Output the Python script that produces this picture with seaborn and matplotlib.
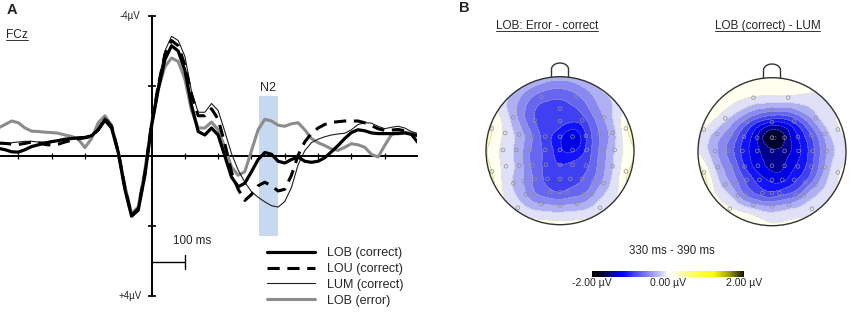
import numpy as np
import matplotlib
matplotlib.use('Agg')
import matplotlib.pyplot as plt
import matplotlib.tri as mtri
import matplotlib.cm as cm
from matplotlib.colors import LinearSegmentedColormap, Normalize
from matplotlib.lines import Line2D
from matplotlib.patches import Circle
import seaborn as sns

# ---------------- data: ERP at FCz (µV, negative up) ----------------
times = np.arange(-460, 801, 20)

lob_correct = [-0.22, -0.18, -0.12, -0.11, -0.18, -0.27, -0.32, -0.37, -0.41, -0.44,
               -0.48, -0.50, -0.52, -0.53, -0.58, -0.75, -1.02, -0.80, -0.10, 0.95,
               1.72, 1.55, 0.55, -0.85, -1.90, -2.75, -3.15, -3.00, -2.45, -1.45,
               -0.70, -0.60, -0.80, -0.60, 0.00, 0.60, 0.88, 0.78, 0.45, 0.10,
               -0.10, -0.05, 0.15, 0.20, 0.10, 0.03, 0.15, 0.18, 0.15, 0.05,
               -0.12, -0.30, -0.50, -0.67, -0.75, -0.72, -0.66, -0.64, -0.64, -0.64,
               -0.64, -0.66, -0.62, -0.58]
lou_correct = [-0.37, -0.36, -0.34, -0.33, -0.36, -0.40, -0.38, -0.33, -0.31, -0.34,
               -0.40, -0.45, -0.49, -0.52, -0.56, -0.75, -1.08, -0.85, -0.12, 0.90,
               1.70, 1.50, 0.50, -0.90, -2.00, -2.90, -3.30, -3.15, -2.60, -1.75,
               -1.15, -1.15, -1.35, -1.05, -0.35, 0.46, 0.95, 1.27, 1.10, 0.85,
               0.75, 0.85, 1.00, 0.95, 0.55, -0.02, -0.40, -0.65, -0.80, -0.90,
               -0.96, -0.98, -1.00, -1.00, -1.00, -0.95, -0.87, -0.78, -0.73, -0.74,
               -0.76, -0.72, -0.62, -0.38]
lum_correct = [-0.35, -0.35, -0.38, -0.40, -0.42, -0.42, -0.40, -0.40, -0.42, -0.45,
               -0.48, -0.50, -0.52, -0.54, -0.60, -0.80, -1.10, -0.88, -0.15, 0.88,
               1.70, 1.50, 0.50, -0.95, -2.10, -3.00, -3.42, -3.30, -2.85, -1.85,
               -1.25, -1.25, -1.50, -1.30, -0.70, -0.07, 0.40, 0.75, 1.02, 1.18,
               1.31, 1.42, 1.46, 1.30, 0.90, 0.25, -0.15, -0.38, -0.48, -0.55,
               -0.60, -0.63, -0.65, -0.75, -0.90, -0.95, -0.94, -0.85, -0.78, -0.82,
               -0.85, -0.80, -0.70, -0.64]
lob_error = [-0.80, -0.90, -1.00, -0.95, -0.80, -0.71, -0.70, -0.68, -0.67, -0.65,
             -0.60, -0.56, -0.48, -0.24, -0.50, -0.95, -1.15, -0.88, -0.12, 0.85,
             1.65, 1.46, 0.40, -0.95, -1.90, -2.55, -2.80, -2.70, -2.20, -1.30,
             -0.80, -0.80, -0.97, -0.75, -0.25, 0.31, 0.55, 0.45, -0.15, -0.75,
             -1.05, -1.00, -0.88, -0.85, -0.92, -0.95, -0.75, -0.50, -0.38, -0.30,
             -0.20, -0.16, -0.25, -0.35, -0.32, -0.25, -0.05, 0.03, -0.30, -0.60,
             -0.70, -0.68, -0.65, -0.60]

series_labels = ['LOB (correct)', 'LOU (correct)', 'LUM (correct)', 'LOB (error)']
n2_window = [322, 381]

# ---------------- data: topographies 330-390 ms ----------------
elec_x = [-0.25, 0.22,
          0.0,
          -0.63, -0.34, 0.0, 0.30, 0.59,
          -0.92, -0.74, -0.55, -0.38, -0.20, 0.0, 0.17, 0.35, 0.53, 0.71, 0.89,
          -0.77, -0.59, -0.40, -0.20, 0.0, 0.17, 0.36, 0.55, 0.74,
          -0.92, -0.73, -0.55, -0.37, -0.19, 0.0, 0.17, 0.35, 0.53, 0.71, 0.89,
          -0.63, -0.49, -0.34, -0.17, 0.0, 0.14, 0.30, 0.45, 0.59,
          -0.46, -0.36, -0.13, 0.0, 0.10, 0.32, 0.43,
          -0.57, -0.25, 0.0, 0.23, 0.54]
elec_y = [0.73, 0.73,
          0.57,
          0.45, 0.41, 0.40, 0.41, 0.45,
          0.30, 0.24, 0.22, 0.20, 0.19, 0.19, 0.19, 0.20, 0.22, 0.24, 0.30,
          0.01, 0.01, 0.01, 0.01, 0.01, 0.01, 0.01, 0.01, 0.01,
          -0.28, -0.21, -0.20, -0.20, -0.19, -0.19, -0.19, -0.20, -0.20, -0.21, -0.28,
          -0.44, -0.41, -0.38, -0.38, -0.38, -0.38, -0.38, -0.41, -0.44,
          -0.59, -0.59, -0.56, -0.56, -0.56, -0.59, -0.59,
          -0.77, -0.72, -0.74, -0.72, -0.77]

err_minus_correct = [-0.70, -0.65,
                     -0.85,
                     -0.30, -0.80, -0.90, -0.90, -0.40,
                     0.20, -0.05, -0.30, -0.60, -0.90, -1.15, -1.35, -1.00, -0.60, -0.30, 0.15,
                     -0.05, -0.25, -0.60, -0.85, -1.15, -1.25, -0.95, -0.55, -0.20,
                     0.20, -0.08, -0.30, -0.65, -0.85, -1.00, -0.95, -0.85, -0.55, -0.22, 0.15,
                     -0.22, -0.40, -0.65, -0.85, -0.90, -0.90, -0.80, -0.60, -0.35,
                     -0.40, -0.55, -0.75, -0.80, -0.75, -0.60, -0.45,
                     -0.08, -0.40, -0.40, -0.40, -0.08]
correct_minus_lum = [-0.02, -0.05,
                     -0.50,
                     -0.15, -0.70, -1.20, -0.95, -0.30,
                     0.00, -0.30, -0.60, -1.00, -1.40, -1.80, -1.60, -1.20, -0.80, -0.35, -0.02,
                     -0.35, -0.65, -1.05, -1.35, -1.55, -1.50, -1.25, -0.85, -0.40,
                     0.20, -0.30, -0.60, -1.00, -1.30, -1.45, -1.40, -1.15, -0.85, -0.40, -0.02,
                     -0.30, -0.55, -0.85, -1.10, -1.25, -1.25, -1.05, -0.80, -0.45,
                     -0.40, -0.60, -0.90, -0.95, -0.90, -0.65, -0.45,
                     0.05, -0.35, -0.40, -0.35, -0.08]
rim_angles = [0, 30, 60, 90, 120, 150, 180, 210, 240, 270, 300, 330]
rim_err = [0.25, 0.10, -0.10, -0.15, -0.10, 0.10, 0.30, 0.30, 0.10, 0.20, 0.10, 0.25]
rim_lum = [0.00, 0.00, 0.05, 0.05, 0.25, 0.25, 0.10, 0.35, 0.30, 0.05, 0.00, 0.00]

topo_titles = ['LOB: Error - correct', 'LOB (correct) - LUM']

# ---------------- style ----------------
sns.set_style('white')
plt.rcParams['font.family'] = ['Liberation Sans', 'DejaVu Sans']

W, H = 853, 323
fig = plt.figure(figsize=(W / 100, H / 100), dpi=100)


def fx(px):
    return px / W


def fy(py):
    return 1 - py / H


# ---------------- panel A ----------------
ax = fig.add_axes([0, fy(296), fx(417), 280 / H])
ax.fill_between(n2_window, -1.71, 2.29, color='#c6d9f0', lw=0, zorder=0)

line_kw = dict(ax=ax, legend=False, solid_joinstyle='round', dash_joinstyle='round')
sns.lineplot(x=times, y=lob_error, color='#8c8c8c', linewidth=2.2, zorder=3, **line_kw)
sns.lineplot(x=times, y=lum_correct, color='#1e1e1e', linewidth=0.8, zorder=4, **line_kw)
sns.lineplot(x=times, y=lou_correct, color='black', linewidth=2.2, zorder=5, **line_kw)
ax.lines[-1].set_dashes((4, 2.5))
sns.lineplot(x=times, y=lob_correct, color='black', linewidth=2.3, zorder=6, **line_kw)

ax.set_xlim(-455, 797)
ax.set_ylim(4, -4)
for s in ['top', 'right']:
    ax.spines[s].set_visible(False)
for s in ['left', 'bottom']:
    ax.spines[s].set_position(('data', 0))
    ax.spines[s].set_linewidth(1.4)
    ax.spines[s].set_color('black')
ax.set_xticks([t for t in range(-400, 800, 100) if t != 0])
ax.set_xticklabels([])
ax.set_yticks([-4, -2, 2, 4])
ax.set_yticklabels([])
ax.tick_params(axis='x', bottom=True, direction='inout', length=5, width=0.9, color='black')
ax.tick_params(axis='y', left=True, direction='inout', length=6, width=1.2, color='black')
ax.set_xlabel('')
ax.set_ylabel('')
ax.patch.set_alpha(0)

ax.text(-35, -4, '-4µV', ha='right', va='center', fontsize=7)
ax.text(-30, 4, '+4µV', ha='right', va='center', fontsize=7)
ax.text(351, -1.95, 'N2', ha='center', va='center', fontsize=9)

# 100 ms scale bar
ax.plot([0, 100], [3.04, 3.04], color='black', lw=1.0, solid_capstyle='butt')
ax.plot([100, 100], [2.84, 3.24], color='black', lw=1.0)
ax.text(121, 2.44, '100 ms', ha='center', va='center', fontsize=8.4)

handles = [Line2D([], [], color='black', lw=2.3),
           Line2D([], [], color='black', lw=2.2, dashes=(4, 2.5)),
           Line2D([], [], color='#1e1e1e', lw=0.8),
           Line2D([], [], color='#8c8c8c', lw=2.2)]
fig.legend(handles, series_labels, loc='upper left', bbox_to_anchor=(fx(267), fy(247)),
           frameon=False, fontsize=9, handlelength=3.85, handletextpad=0.95,
           labelspacing=0.31, borderpad=0, borderaxespad=0)

fig.text(fx(11.5), fy(9.5), 'A', fontsize=10.5, fontweight='bold', ha='center', va='center')
fcz = fig.text(fx(6), fy(35), 'FCz', fontsize=8.6, ha='left', va='center')

# ---------------- panel B ----------------
topo_cmap = LinearSegmentedColormap.from_list('topo', [
    (0.000, '#000000'), (0.075, '#000030'), (0.125, '#000090'), (0.175, '#0000e8'),
    (0.2125, '#0808ff'), (0.275, '#4040f2'), (0.350, '#7878f0'), (0.425, '#b0b0f4'),
    (0.475, '#e0e0f8'), (0.500, '#ffffff'), (0.525, '#fffff0'), (0.575, '#fdfbc0'),
    (0.700, '#ffff40'), (0.800, '#ffff00'), (0.900, '#a0a000'), (1.000, '#101000')])
norm = Normalize(-2, 2)
levels = np.arange(-2.0, 2.01, 0.2)
R = 74.0


def draw_head(cx, cy, vals, rim_vals):
    hax = fig.add_axes([fx(cx - 1.1 * R), fy(cy + 1.1 * R), 2.2 * R / W, 2.35 * R / H])
    hax.set_xlim(-1.1, 1.1)
    hax.set_ylim(-1.1, 1.25)
    hax.axis('off')
    ang = np.deg2rad(rim_angles)
    px = np.concatenate([elec_x, 1.08 * np.cos(ang)])
    py = np.concatenate([elec_y, 1.08 * np.sin(ang)])
    pz = np.concatenate([vals, rim_vals])
    tri = mtri.Triangulation(px, py)
    tri_f, z_f = mtri.UniformTriRefiner(tri).refine_field(pz, subdiv=4)
    clip = Circle((0, 0), 1.0, transform=hax.transData)
    cf = hax.tricontourf(tri_f, z_f, levels=levels, cmap=topo_cmap, norm=norm, extend='both')
    cl = hax.tricontour(tri_f, z_f, levels=levels, colors='#b4b4b4', linewidths=0.4, alpha=0.7)
    cf.set_clip_path(clip)
    cl.set_clip_path(clip)
    hax.scatter(elec_x, elec_y, s=7, facecolors='none', edgecolors='#8f8f8f', linewidths=0.5, zorder=4)
    hax.add_patch(Circle((0, 0), 1.0, fill=False, ec='#333333', lw=1.0, zorder=5))
    th = np.linspace(0, np.pi, 30)
    nx = np.concatenate([[0.115], 0.115 * np.cos(th), [-0.115]])
    ny = np.concatenate([[0.994], 1.10 + 0.085 * np.sin(th), [0.994]])
    hax.plot(nx, ny, color='#333333', lw=1.0, zorder=5)


draw_head(560, 150.7, err_minus_correct, rim_err)
draw_head(772, 151.7, correct_minus_lum, rim_lum)

t1 = fig.text(fx(547), fy(26), topo_titles[0], ha='center', va='center', fontsize=8.5)
t2 = fig.text(fx(767.5), fy(26), topo_titles[1], ha='center', va='center', fontsize=8.5)
fig.text(fx(464), fy(8.5), 'B', fontsize=10.5, fontweight='bold', ha='center', va='center')
fig.text(fx(671.7), fy(251), '330 ms - 390 ms', ha='center', va='center', fontsize=8.3)

cax = fig.add_axes([fx(591.7), fy(277), 152.6 / W, 6 / H])
cb = fig.colorbar(cm.ScalarMappable(norm=norm, cmap=topo_cmap), cax=cax, orientation='horizontal')
cb.set_ticks([])
cb.outline.set_visible(False)
for xpos, lab in zip([591.7, 668.3, 744.5], ['-2.00 µV', '0.00 µV', '2.00 µV']):
    fig.text(fx(xpos), fy(283.5), lab, ha='center', va='center', fontsize=7.6)

# underlines for FCz and the map titles
fig.canvas.draw()
rend = fig.canvas.get_renderer()
for txt in [fcz, t1, t2]:
    bb = txt.get_window_extent(renderer=rend)
    yline = bb.y0 + 1.0
    fig.add_artist(Line2D([bb.x0 / W, bb.x1 / W], [yline / H, yline / H],
                          transform=fig.transFigure, color='#333333', lw=0.7))

fig.savefig('out.png', dpi=100)
